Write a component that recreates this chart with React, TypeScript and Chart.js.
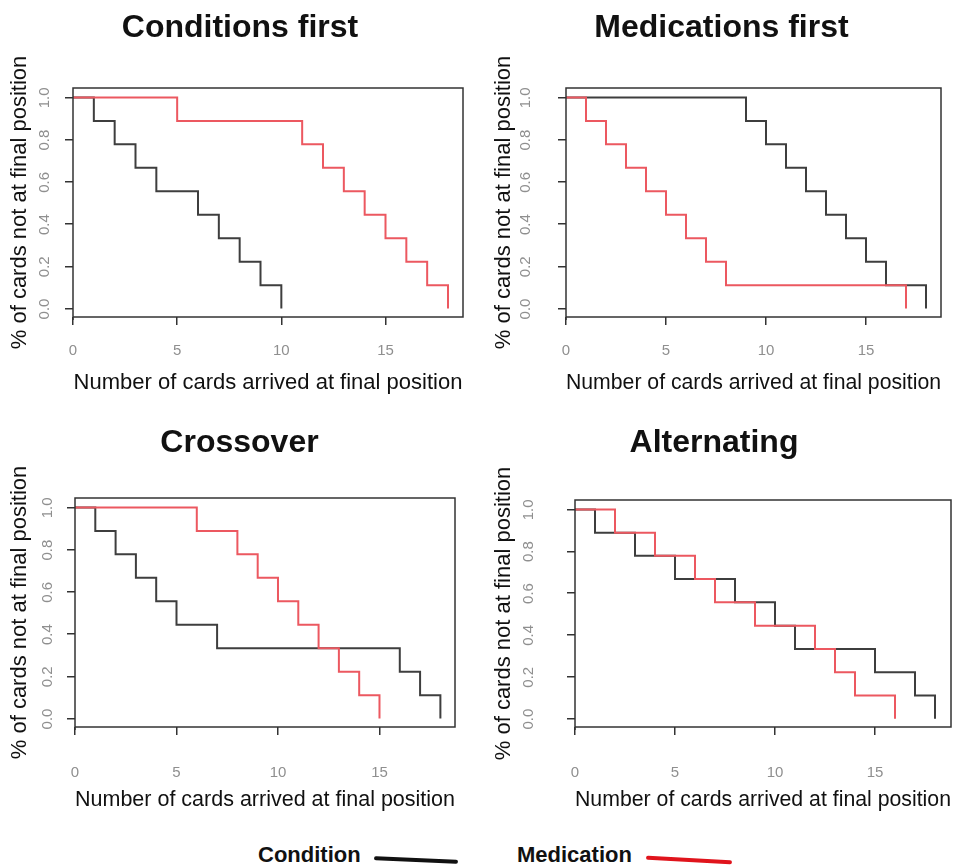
import React, { useEffect, useRef } from "react";
import { Chart, registerables } from "chart.js";

Chart.register(...registerables);

const FONT = "'Liberation Sans', Arial, Helvetica, sans-serif";
const DARK = "#3e3e3e";
const RED = "#ec5860";
const FRAME = "#333333";
const TICK_COLOR = "#8f8f8f";

// Share of the 9 cards not yet at their final position after each arrival
const fractionRemaining = [1.0, 0.889, 0.778, 0.667, 0.556, 0.444, 0.333, 0.222, 0.111, 0.0];

const xTicks = [0, 5, 10, 15];
const yTicks = [0, 0.2, 0.4, 0.6, 0.8, 1.0];

// Number of cards arrived at the moment of each drop
const conditionsFirstCondition = [0, 1, 2, 3, 4, 6, 7, 8, 9, 10];
const conditionsFirstMedication = [0, 5, 11, 12, 13, 14, 15, 16, 17, 18];
const medicationsFirstCondition = [0, 9, 10, 11, 12, 13, 14, 15, 16, 18];
const medicationsFirstMedication = [0, 1, 2, 3, 4, 5, 6, 7, 8, 17];
const crossoverCondition = [0, 1, 2, 3, 4, 5, 7, 16, 17, 18];
const crossoverMedication = [0, 6, 8, 9, 10, 11, 12, 13, 14, 15];
const alternatingCondition = [0, 1, 3, 5, 8, 10, 11, 15, 17, 18];
const alternatingMedication = [0, 2, 4, 6, 7, 9, 12, 13, 14, 16];

const panelTitles = ["Conditions first", "Medications first", "Crossover", "Alternating"];
const seriesNames = ["Condition", "Medication"];
const xAxisTitle = "Number of cards arrived at final position";
const yAxisTitle = "% of cards not at final position";

type Layout = {
  left: number; top: number; w: number; h: number;
  yWidth: number; xHeight: number; rightGap: number;
  titleTop: number; titleBottom: number;
  yTickPad: number; yTitlePad: number; xTickPad: number; xTitlePad: number;
  xMax: number;
};

const layouts: Layout[] = [
  { left: 0, top: 0, w: 480, h: 410, yWidth: 73, xHeight: 93, rightGap: 17, titleTop: 9, titleBottom: 40.6, yTickPad: 20, yTitlePad: 7, xTickPad: 17, xTitlePad: 14, xMax: 18.72 },
  { left: 478, top: 0, w: 487, h: 410, yWidth: 88, xHeight: 93, rightGap: 24, titleTop: 9, titleBottom: 40.6, yTickPad: 32, yTitlePad: 13, xTickPad: 17, xTitlePad: 14, xMax: 18.75 },
  { left: 0, top: 410, w: 479, h: 410, yWidth: 75, xHeight: 93, rightGap: 24, titleTop: 14, titleBottom: 35.6, yTickPad: 19, yTitlePad: 7, xTickPad: 29, xTitlePad: 7, xMax: 18.72 },
  { left: 476, top: 410, w: 476, h: 410, yWidth: 99, xHeight: 93, rightGap: 1, titleTop: 14, titleBottom: 37.6, yTickPad: 38, yTitlePad: 15, xTickPad: 29, xTitlePad: 7, xMax: 18.8 },
];

const framePlugin = {
  id: "frameBox",
  afterDraw(chart: any) {
    const { ctx, chartArea: a } = chart;
    ctx.save();
    ctx.strokeStyle = FRAME;
    ctx.lineWidth = 1.5;
    ctx.strokeRect(a.left, a.top, a.right - a.left, a.bottom - a.top);
    ctx.beginPath();
    ctx.moveTo(a.left, a.bottom);
    ctx.lineTo(a.left, a.bottom + 3);
    ctx.stroke();
    ctx.restore();
  },
};

function Panel({ title, condX, medX, L }: { title: string; condX: number[]; medX: number[]; L: Layout }) {
  const ref = useRef<HTMLCanvasElement>(null);
  useEffect(() => {
    if (!ref.current) return;
    const toPoints = (xs: number[]) => xs.map((x, i) => ({ x, y: fractionRemaining[i] }));
    const chart = new Chart(ref.current, {
      type: "line",
      data: {
        datasets: [
          { label: seriesNames[1], data: toPoints(medX), borderColor: RED, borderWidth: 2, stepped: "before", pointRadius: 0, fill: false, yAxisID: "y" },
          { label: seriesNames[0], data: toPoints(condX), borderColor: DARK, borderWidth: 2, stepped: "before", pointRadius: 0, fill: false, yAxisID: "y" },
        ],
      },
      options: {
        animation: false,
        responsive: false,
        layout: { padding: 0 },
        plugins: {
          legend: { display: false },
          tooltip: { enabled: false },
          title: {
            display: true,
            text: title,
            color: "#111",
            font: { family: FONT, size: 32, weight: "bold", lineHeight: 1.2 },
            padding: { top: L.titleTop, bottom: L.titleBottom },
          },
        },
        scales: {
          x: {
            type: "linear",
            min: 0,
            max: L.xMax,
            afterBuildTicks: (s: any) => { s.ticks = xTicks.map((v) => ({ value: v })); },
            afterFit: (s: any) => { s.height = L.xHeight; },
            border: { display: false },
            grid: { drawOnChartArea: false, drawTicks: true, tickLength: 8, color: FRAME, lineWidth: 1.5 },
            ticks: { color: TICK_COLOR, font: { family: FONT, size: 15 }, padding: L.xTickPad, maxRotation: 0, autoSkip: false },
            title: { display: true, text: xAxisTitle, color: "#111", font: { family: FONT, size: 22, lineHeight: 1.2 }, padding: { top: 0, bottom: L.xTitlePad } },
          },
          y: {
            type: "linear",
            position: "left",
            min: -0.04,
            max: 1.045,
            afterBuildTicks: (s: any) => { s.ticks = yTicks.map((v) => ({ value: v })); },
            afterFit: (s: any) => { s.width = L.yWidth; },
            border: { display: false },
            grid: { drawOnChartArea: false, drawTicks: true, tickLength: 8, color: FRAME, lineWidth: 1.5 },
            ticks: {
              color: TICK_COLOR,
              font: { family: FONT, size: 15 },
              padding: L.yTickPad,
              minRotation: 90,
              maxRotation: 90,
              labelOffset: -10,
              autoSkip: false,
              callback: (v: any) => Number(v).toFixed(1),
            },
            title: { display: true, text: yAxisTitle, color: "#111", font: { family: FONT, size: 22, lineHeight: 1.2 }, padding: { top: L.yTitlePad, bottom: 0 } },
          },
          gap: {
            type: "linear",
            position: "right",
            display: true,
            afterFit: (s: any) => { s.width = L.rightGap; },
            border: { display: false },
            grid: { display: false },
            ticks: { display: false },
          },
        },
      } as any,
      plugins: [framePlugin],
    });
    return () => chart.destroy();
  }, [title, condX, medX, L]);
  return (
    <canvas
      ref={ref}
      width={L.w}
      height={L.h}
      style={{ position: "absolute", left: L.left, top: L.top, width: L.w, height: L.h, display: "block" }}
    />
  );
}

export default function App() {
  const legendText: React.CSSProperties = {
    position: "absolute",
    fontFamily: FONT,
    fontWeight: "bold",
    fontSize: 22,
    color: "#111",
    lineHeight: "24px",
    top: 843,
  };
  return (
    <div style={{ position: "absolute", left: 0, top: 0, width: 956, height: 868, background: "#fff", overflow: "hidden" }}>
      <Panel title={panelTitles[0]} condX={conditionsFirstCondition} medX={conditionsFirstMedication} L={layouts[0]} />
      <Panel title={panelTitles[1]} condX={medicationsFirstCondition} medX={medicationsFirstMedication} L={layouts[1]} />
      <Panel title={panelTitles[2]} condX={crossoverCondition} medX={crossoverMedication} L={layouts[2]} />
      <Panel title={panelTitles[3]} condX={alternatingCondition} medX={alternatingMedication} L={layouts[3]} />
      <div style={{ ...legendText, left: 258 }}>{seriesNames[0]}</div>
      <div style={{ position: "absolute", left: 374, top: 858, width: 84, height: 4, background: "#111", borderRadius: 2, transform: "rotate(2.5deg)" }} />
      <div style={{ ...legendText, left: 517 }}>{seriesNames[1]}</div>
      <div style={{ position: "absolute", left: 646, top: 858, width: 86, height: 4, background: "#e0141c", borderRadius: 2, transform: "rotate(3deg)" }} />
    </div>
  );
}
